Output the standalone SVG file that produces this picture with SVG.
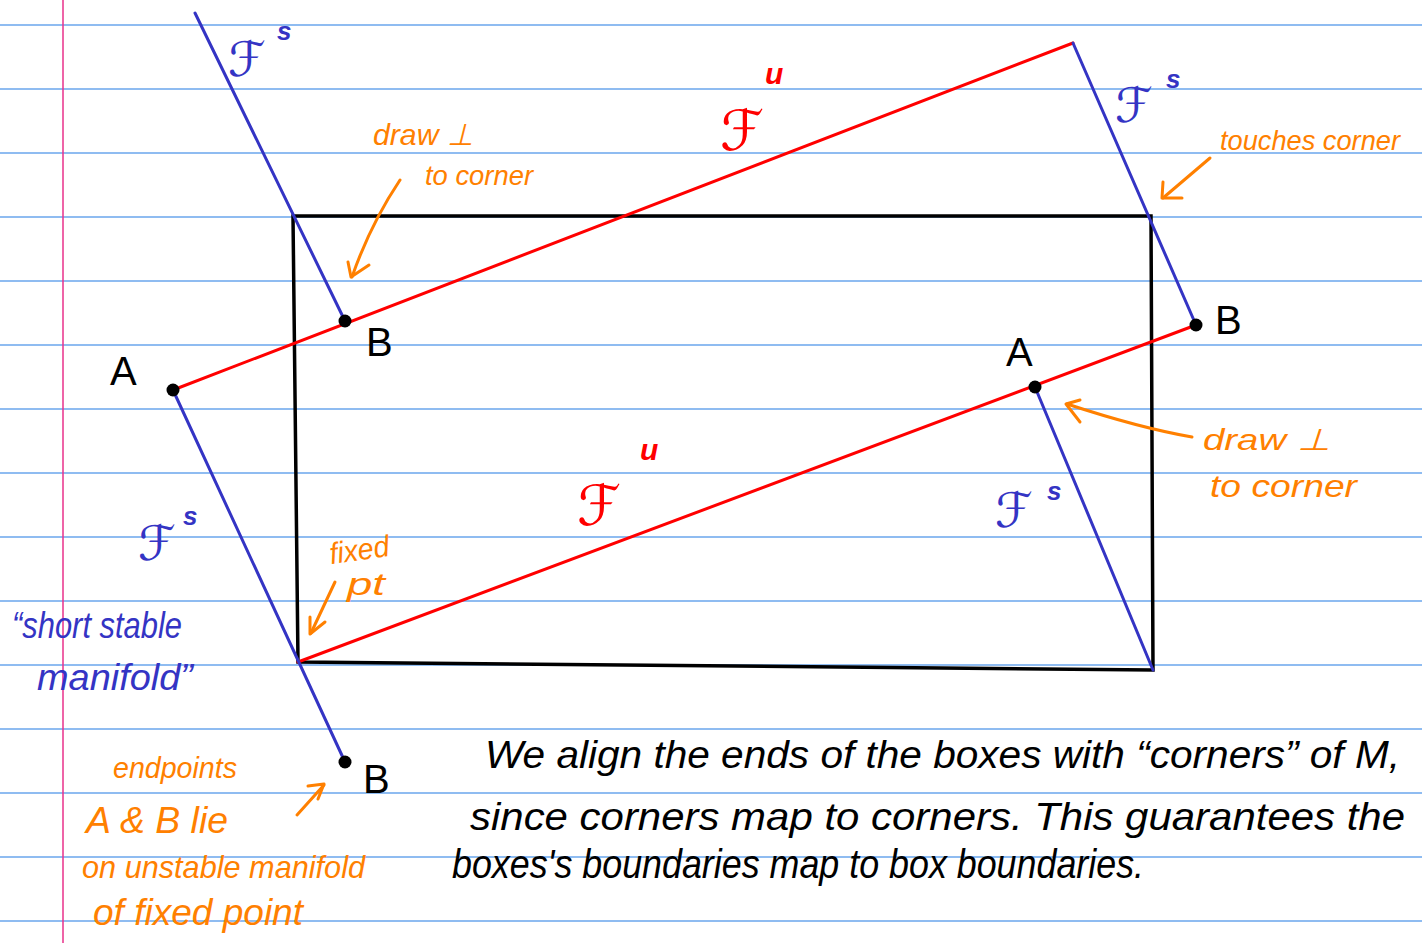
<svg xmlns="http://www.w3.org/2000/svg" width="1422" height="943" viewBox="0 0 1422 943">
<defs>
<style>
.rule{stroke:#6aa6ec;stroke-width:1.5}
.box{stroke:#000;stroke-width:3.5;fill:none}
.red{stroke:#ff0000;stroke-width:3;fill:none;stroke-linecap:round}
.blue{stroke:#3434c4;stroke-width:3;fill:none;stroke-linecap:round}
.arr{stroke:#ff8000;stroke-width:3;fill:none;stroke-linecap:round;stroke-linejoin:round}
.dot{fill:#000}
.lbl{font-family:"Liberation Sans",Arial,sans-serif;font-size:40px;fill:#000}
.or{font-family:"Liberation Sans",Arial,sans-serif;font-style:italic;fill:#ff8000}
.bl{font-family:"Liberation Sans",Arial,sans-serif;font-style:italic;fill:#3434c4}
.bk{font-family:"Liberation Sans",Arial,sans-serif;font-style:italic;fill:#000}
.fs{font-family:"DejaVu Serif","DejaVu Sans",serif;fill:#3434c4}
.fu{font-family:"DejaVu Serif","DejaVu Sans",serif;fill:#ff0000}
.sb{font-family:"Liberation Sans",Arial,sans-serif;font-style:italic;font-weight:bold;fill:#3434c4}
.sr{font-family:"Liberation Sans",Arial,sans-serif;font-style:italic;font-weight:bold;fill:#ff0000}
</style>
</defs>
<rect width="1422" height="943" fill="#fff"/>
<g id="paper">
<line class="rule" x1="0" y1="25" x2="1422" y2="25"/>
<line class="rule" x1="0" y1="89" x2="1422" y2="89"/>
<line class="rule" x1="0" y1="153" x2="1422" y2="153"/>
<line class="rule" x1="0" y1="217" x2="1422" y2="217"/>
<line class="rule" x1="0" y1="281" x2="1422" y2="281"/>
<line class="rule" x1="0" y1="345" x2="1422" y2="345"/>
<line class="rule" x1="0" y1="409" x2="1422" y2="409"/>
<line class="rule" x1="0" y1="473" x2="1422" y2="473"/>
<line class="rule" x1="0" y1="537" x2="1422" y2="537"/>
<line class="rule" x1="0" y1="601" x2="1422" y2="601"/>
<line class="rule" x1="0" y1="665" x2="1422" y2="665"/>
<line class="rule" x1="0" y1="729" x2="1422" y2="729"/>
<line class="rule" x1="0" y1="793" x2="1422" y2="793"/>
<line class="rule" x1="0" y1="857" x2="1422" y2="857"/>
<line class="rule" x1="0" y1="921" x2="1422" y2="921"/>
<line x1="63" y1="0" x2="63" y2="943" stroke="#e8308a" stroke-width="1.5"/>
</g>
<g id="box">
<path class="box" d="M293 216 L1151 216 L1153 670 L298 662 Z"/>
</g>
<g id="curves">
<line class="red" x1="173" y1="390" x2="1073" y2="43"/>
<line class="red" x1="298" y1="662" x2="1196" y2="325"/>
<line class="blue" x1="195" y1="13" x2="345" y2="321"/>
<line class="blue" x1="173" y1="390" x2="345" y2="762"/>
<line class="blue" x1="1073" y1="43" x2="1196" y2="325"/>
<line class="blue" x1="1035" y1="387" x2="1153" y2="670"/>
</g>
<g id="points">
<circle class="dot" cx="173" cy="390" r="6.5"/>
<circle class="dot" cx="345" cy="321" r="6.5"/>
<circle class="dot" cx="345" cy="762" r="6.5"/>
<circle class="dot" cx="1035" cy="387" r="6.5"/>
<circle class="dot" cx="1196" cy="325" r="6.5"/>
<text class="lbl" x="110" y="385">A</text>
<text class="lbl" x="366" y="356">B</text>
<text class="lbl" x="1006" y="366">A</text>
<text class="lbl" x="1215" y="334">B</text>
<text class="lbl" x="363" y="793">B</text>
</g>
<g id="foliation-labels">
<text class="fs" x="228" y="76" font-size="48">ℱ</text><text class="sb" x="277" y="40" font-size="26">s</text>
<text class="fs" x="1115" y="122" font-size="48">ℱ</text><text class="sb" x="1166" y="88" font-size="26">s</text>
<text class="fs" x="138" y="560" font-size="48">ℱ</text><text class="sb" x="183" y="525" font-size="26">s</text>
<text class="fs" x="995" y="527" font-size="48">ℱ</text><text class="sb" x="1047" y="500" font-size="26">s</text>
<text class="fu" x="720" y="150" font-size="56">ℱ</text><text class="sr" x="765" y="84" font-size="30">u</text>
<text class="fu" x="577" y="525" font-size="56">ℱ</text><text class="sr" x="640" y="460" font-size="30">u</text>
</g>
<g id="annotations">
<text class="or" x="373" y="145" font-size="30" textLength="100" lengthAdjust="spacingAndGlyphs">draw ⊥</text>
<text class="or" x="425" y="185" font-size="28" textLength="108" lengthAdjust="spacingAndGlyphs">to corner</text>
<path class="arr" d="M400 180 Q370 225 352 277"/>
<path class="arr" d="M348 262 L351 277 L369 265"/>
<text class="or" x="1220" y="150" font-size="27" textLength="180" lengthAdjust="spacingAndGlyphs">touches corner</text>
<path class="arr" d="M1210 158 L1163 198"/>
<path class="arr" d="M1163 182 L1162 198 L1182 198"/>
<text class="or" x="1203" y="450" font-size="30" textLength="127" lengthAdjust="spacingAndGlyphs">draw ⊥</text>
<text class="or" x="1210" y="497" font-size="32" textLength="147" lengthAdjust="spacingAndGlyphs">to corner</text>
<path class="arr" d="M1192 437 Q1140 428 1067 404"/>
<path class="arr" d="M1080 400 L1066 404 L1080 422"/>
<text class="or" x="330" y="560" font-size="30" textLength="60" lengthAdjust="spacingAndGlyphs" transform="rotate(-8 360 555)">fixed</text>
<text class="or" x="347" y="595" font-size="32" textLength="38" lengthAdjust="spacingAndGlyphs">pt</text>
<path class="arr" d="M335 582 L311 633"/>
<path class="arr" d="M310 617 L310 634 L325 622"/>
<text class="or" x="113" y="778" font-size="30" textLength="124" lengthAdjust="spacingAndGlyphs">endpoints</text>
<text class="or" x="86" y="833" font-size="36" textLength="142" lengthAdjust="spacingAndGlyphs">A &amp; B lie</text>
<text class="or" x="82" y="878" font-size="32" textLength="283" lengthAdjust="spacingAndGlyphs">on unstable manifold</text>
<text class="or" x="93" y="925" font-size="36" textLength="210" lengthAdjust="spacingAndGlyphs">of fixed point</text>
<path class="arr" d="M297 815 L324 785"/>
<path class="arr" d="M308 786 L324 784 L318 799"/>
<text class="bl" x="12" y="638" font-size="36" textLength="170" lengthAdjust="spacingAndGlyphs">“short stable</text>
<text class="bl" x="37" y="690" font-size="36" textLength="156" lengthAdjust="spacingAndGlyphs">manifold”</text>
</g>
<g id="caption">
<text class="bk" x="485" y="768" font-size="38" textLength="915" lengthAdjust="spacingAndGlyphs">We align the ends of the boxes with “corners” of M,</text>
<text class="bk" x="470" y="830" font-size="38" textLength="935" lengthAdjust="spacingAndGlyphs">since corners map to corners.  This guarantees the</text>
<text class="bk" x="452" y="878" font-size="40" textLength="692" lengthAdjust="spacingAndGlyphs">boxes's boundaries map to box boundaries.</text>
</g>
</svg>
